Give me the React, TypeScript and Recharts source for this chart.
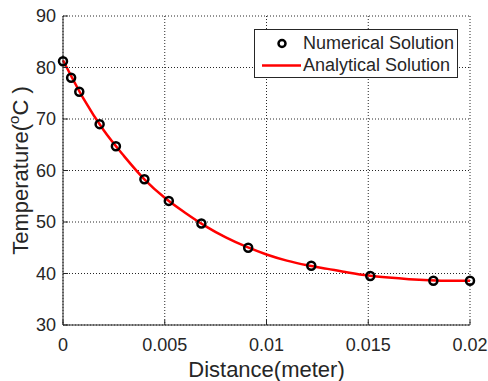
import { ComposedChart, Line, Scatter, XAxis, YAxis, CartesianGrid, Legend } from 'recharts'

// numerical solution (circles)
const numDist = [0, 0.0004, 0.0008, 0.0018, 0.0026, 0.004, 0.0052, 0.0068, 0.0091, 0.0122, 0.0151, 0.0182, 0.02]
const numTemp = [81.2, 78.0, 75.3, 69.0, 64.7, 58.3, 54.1, 49.7, 45.0, 41.5, 39.5, 38.6, 38.6]

// analytical solution (red curve)
const anaDist = [0, 0.001, 0.002, 0.003, 0.004, 0.005, 0.006, 0.007, 0.008, 0.009, 0.01,
  0.011, 0.012, 0.013, 0.014, 0.015, 0.016, 0.017, 0.018, 0.019, 0.02]
const anaTemp = [81.4, 74.0, 67.8, 62.8, 58.3, 54.7, 51.8, 49.2, 47.0, 45.2, 43.7,
  42.5, 41.6, 40.9, 40.2, 39.6, 39.2, 38.9, 38.7, 38.6, 38.6]

const xTicks = [0, 0.005, 0.01, 0.015, 0.02]
const yTicks = [30, 40, 50, 60, 70, 80, 90]

const numerical = numDist.map((x, i) => ({ x, t: numTemp[i] }))
const analytical = anaDist.map((x, i) => ({ x, t: anaTemp[i] }))

const font = '"Liberation Sans", Arial, Helvetica, sans-serif'
const ink = '#262626'
const tickStyle = { fontSize: 18, fill: ink, fontFamily: font }

function Ring(props: any) {
  const { cx, cy } = props
  return <circle cx={cx} cy={cy} r={4} fill="none" stroke="#000" strokeWidth={2.5} />
}

function YLabel({ viewBox }: any) {
  const x = viewBox.x + 28
  const y = viewBox.y + viewBox.height / 2
  return (
    <text x={x} y={y} transform={`rotate(-90 ${x} ${y})`} textAnchor="middle"
      fontSize={22} fill={ink} fontFamily={font}>
      Temperature(<tspan fontSize={15} dy={-9}>o</tspan><tspan dy={9}>C )</tspan>
    </text>
  )
}

function XLabel({ viewBox }: any) {
  return (
    <text x={viewBox.x + viewBox.width / 2} y={viewBox.y + 52} textAnchor="middle"
      fontSize={22} fill={ink} fontFamily={font}>
      Distance(meter)
    </text>
  )
}

function LegendBox() {
  const row = { display: 'flex', alignItems: 'center', height: 21.5, whiteSpace: 'nowrap' as const }
  return (
    <div style={{
      border: `1px solid ${ink}`, background: '#fff', width: 204, height: 49, boxSizing: 'border-box',
      fontFamily: font, fontSize: 18, color: ink, paddingTop: 3,
    }}>
      <div style={row}>
        <svg width={48} height={21}>
          <circle cx={27} cy={10.5} r={3.5} fill="none" stroke="#000" strokeWidth={2.5} />
        </svg>
        <span>Numerical Solution</span>
      </div>
      <div style={row}>
        <svg width={48} height={21}>
          <line x1={7} x2={46} y1={10.5} y2={10.5} stroke="#ff0000" strokeWidth={2.5} />
        </svg>
        <span>Analytical Solution</span>
      </div>
    </div>
  )
}

export default function App() {
  return (
    <div style={{ position: 'absolute', left: 0, top: 0, background: '#fff' }}>
      <ComposedChart width={488} height={381} margin={{ top: 16, right: 18, bottom: 0, left: 0 }}>
        <CartesianGrid stroke={ink} strokeDasharray="1 2" />
        <XAxis dataKey="x" type="number" domain={[0, 0.02]} ticks={xTicks} height={56}
          tick={tickStyle} stroke={ink} tickSize={-5} tickMargin={18}
          tickFormatter={(v) => String(v)} label={{ content: XLabel }} />
        <XAxis xAxisId="top" orientation="top" type="number" domain={[0, 0.02]} ticks={xTicks}
          height={0} tick={false} stroke={ink} tickSize={-5} />
        <YAxis type="number" domain={[30, 90]} ticks={yTicks} width={63}
          tick={tickStyle} stroke={ink} tickSize={-5} tickMargin={12}
          label={{ content: YLabel }} />
        <YAxis yAxisId="right" orientation="right" type="number" domain={[30, 90]} ticks={yTicks}
          width={0} tick={false} stroke={ink} tickSize={-5} />
        <Line data={analytical} dataKey="t" type="monotone" stroke="#ff0000" strokeWidth={2.5}
          dot={false} activeDot={false} isAnimationActive={false} legendType="none" />
        <Scatter data={numerical} dataKey="t" shape={Ring} isAnimationActive={false} />
        <Legend content={LegendBox} layout="vertical" align="center" verticalAlign="middle"
          wrapperStyle={{ top: 29, left: 254, width: 204 }} />
      </ComposedChart>
    </div>
  )
}
